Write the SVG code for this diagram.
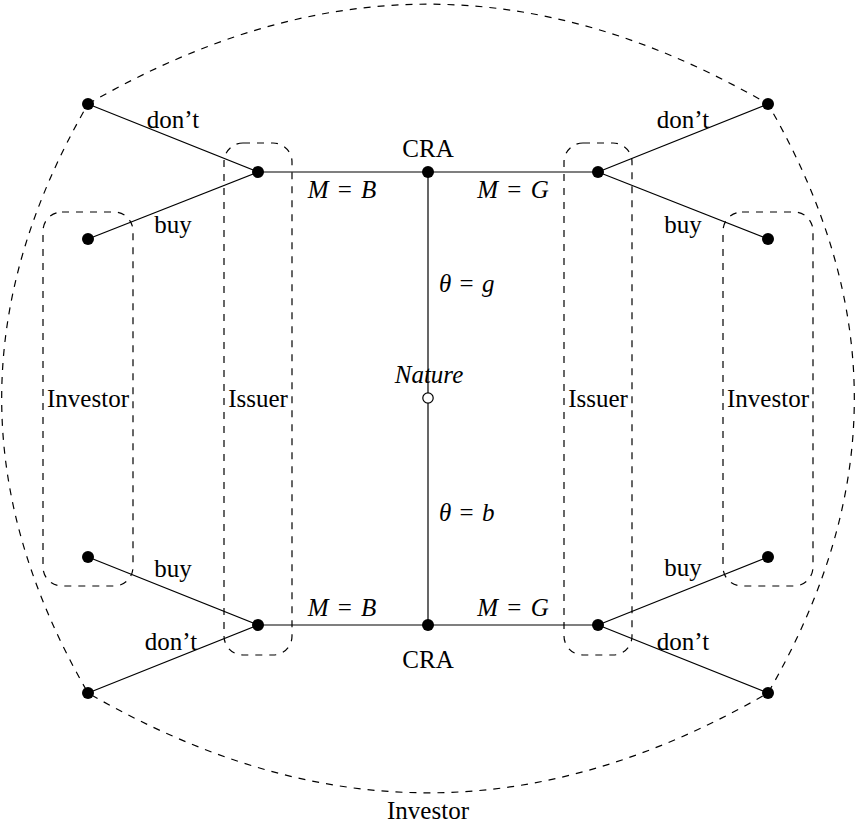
<svg xmlns="http://www.w3.org/2000/svg" width="858" height="825" viewBox="0 0 858 825">
  <style>
    .edge { stroke: #000; stroke-width: 1.2; fill: none; }
    .set { stroke: #000; stroke-width: 1.2; fill: none; stroke-dasharray: 7 7; }
    .dot { fill: #000; }
    .chance { fill: #fff; stroke: #000; stroke-width: 1.2; }
    .c { text-anchor: middle; }
    .it { font-style: italic; }
  </style>

  <!-- information sets (dashed) -->
  <g id="info-sets">
    <path class="set" d="M88,104 C318.5,-29.1 537.5,-29.1 768,104 C883.1,303.4 883.1,493.6 768,693 C537.5,826.1 318.5,826.1 88,693 C-27.1,493.6 -27.1,303.4 88,104 Z"/>
    <rect class="set" x="43" y="212" width="90" height="374" rx="19" ry="19"/>
    <rect class="set" x="224" y="143" width="68" height="512" rx="19" ry="19"/>
    <rect class="set" x="564" y="143" width="68" height="512" rx="19" ry="19"/>
    <rect class="set" x="723" y="212" width="90" height="374" rx="19" ry="19"/>
  </g>

  <!-- moves -->
  <g id="connectors">
    <line class="edge" x1="88" y1="104" x2="258" y2="172"/>
    <line class="edge" x1="88" y1="239" x2="258" y2="172"/>
    <line class="edge" x1="258" y1="172" x2="598" y2="172"/>
    <line class="edge" x1="598" y1="172" x2="768" y2="104"/>
    <line class="edge" x1="598" y1="172" x2="768" y2="239"/>
    <line class="edge" x1="428" y1="172" x2="428" y2="625"/>
    <line class="edge" x1="258" y1="625" x2="598" y2="625"/>
    <line class="edge" x1="88" y1="557" x2="258" y2="625"/>
    <line class="edge" x1="88" y1="693" x2="258" y2="625"/>
    <line class="edge" x1="598" y1="625" x2="768" y2="557"/>
    <line class="edge" x1="598" y1="625" x2="768" y2="693"/>
  </g>

  <g font-family="'Liberation Serif', 'Times New Roman', 'DejaVu Serif', serif" font-size="25" fill="#000">
    <!-- move labels -->
    <g id="labels">
      <text class="c" x="173" y="128">don’t</text>
      <text class="c" x="173" y="233">buy</text>
      <text class="c" x="683" y="128">don’t</text>
      <text class="c" x="683" y="233">buy</text>
      <text class="c" x="173" y="577">buy</text>
      <text class="c" x="171" y="650">don’t</text>
      <text class="c" x="683" y="576">buy</text>
      <text class="c" x="683" y="650">don’t</text>
      <text class="c" x="342" y="198"><tspan class="it">M</tspan><tspan dx="3"> = </tspan><tspan class="it" dx="3">B</tspan></text>
      <text class="c" x="513" y="198"><tspan class="it">M</tspan><tspan dx="3"> = </tspan><tspan class="it" dx="3">G</tspan></text>
      <text class="c" x="342" y="616"><tspan class="it">M</tspan><tspan dx="3"> = </tspan><tspan class="it" dx="3">B</tspan></text>
      <text class="c" x="513" y="616"><tspan class="it">M</tspan><tspan dx="3"> = </tspan><tspan class="it" dx="3">G</tspan></text>
      <text x="439" y="292"><tspan class="it">θ</tspan><tspan dx="2"> = </tspan><tspan class="it" dx="2">g</tspan></text>
      <text x="439" y="521"><tspan class="it">θ</tspan><tspan dx="2"> = </tspan><tspan class="it" dx="2">b</tspan></text>
      <text class="c" x="88" y="407">Investor</text>
      <text class="c" x="258" y="407">Issuer</text>
      <text class="c" x="598" y="407">Issuer</text>
      <text class="c" x="768" y="407">Investor</text>
      <text class="c" x="428" y="819">Investor</text>
    </g>

    <!-- decision and chance nodes -->
    <g id="nature">
      <circle class="chance" cx="428" cy="398" r="5.2"/>
      <text class="c it" x="429" y="383">Nature</text>
    </g>
    <g id="cra-top">
      <circle class="dot" cx="428" cy="172" r="6"/>
      <text class="c" x="428" y="157">CRA</text>
    </g>
    <g id="cra-bottom">
      <circle class="dot" cx="428" cy="625" r="6"/>
      <text class="c" x="428" y="668">CRA</text>
    </g>
  </g>
  <g id="issuer-top-left"><circle class="dot" cx="258" cy="172" r="6"/></g>
  <g id="issuer-top-right"><circle class="dot" cx="598" cy="172" r="6"/></g>
  <g id="issuer-bottom-left"><circle class="dot" cx="258" cy="625" r="6"/></g>
  <g id="issuer-bottom-right"><circle class="dot" cx="598" cy="625" r="6"/></g>
  <g id="investor-1"><circle class="dot" cx="88" cy="104" r="6"/></g>
  <g id="investor-2"><circle class="dot" cx="88" cy="239" r="6"/></g>
  <g id="investor-3"><circle class="dot" cx="768" cy="104" r="6"/></g>
  <g id="investor-4"><circle class="dot" cx="768" cy="239" r="6"/></g>
  <g id="investor-5"><circle class="dot" cx="88" cy="557" r="6"/></g>
  <g id="investor-6"><circle class="dot" cx="88" cy="693" r="6"/></g>
  <g id="investor-7"><circle class="dot" cx="768" cy="557" r="6"/></g>
  <g id="investor-8"><circle class="dot" cx="768" cy="693" r="6"/></g>
</svg>
